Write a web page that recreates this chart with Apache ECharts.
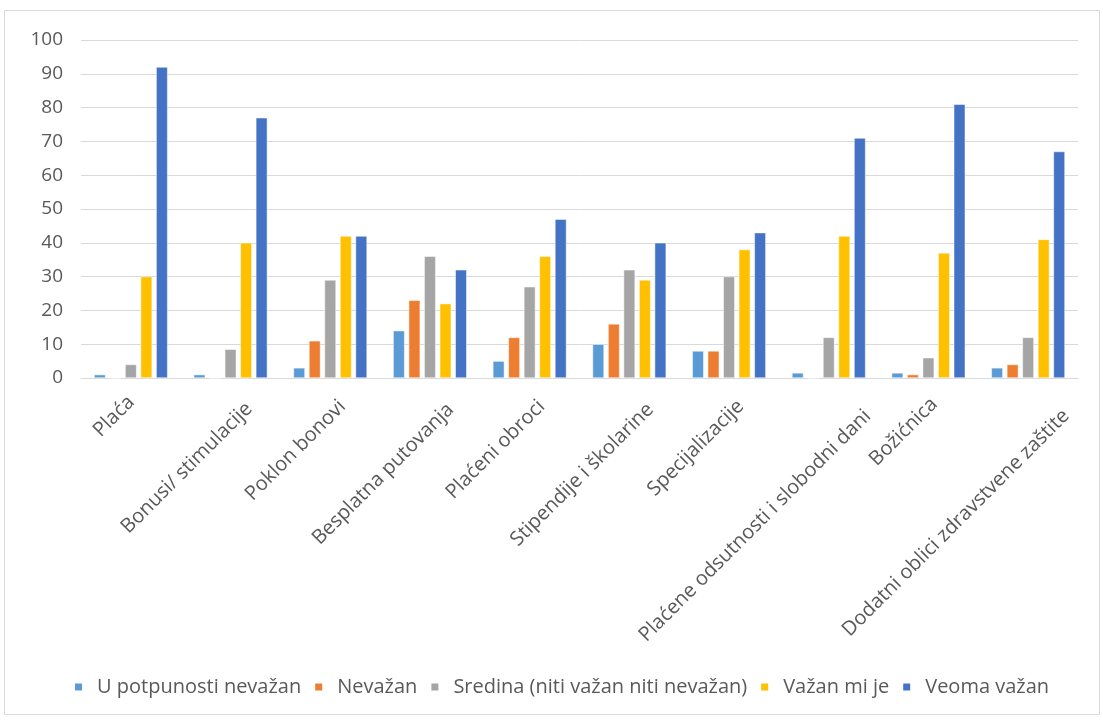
<!DOCTYPE html>
<html>
<head>
<meta charset="utf-8">
<script src="https://cdn.jsdelivr.net/npm/echarts@6/dist/echarts.min.js"></script>
<style>
html,body{margin:0;padding:0;background:#fff;}
#chart{width:1103px;height:720px;}
</style>
</head>
<body>
<div id="chart"></div>
<script>
const categories = ["Plaća","Bonusi/ stimulacije","Poklon bonovi","Besplatna putovanja","Plaćeni obroci","Stipendije i školarine","Specijalizacije","Plaćene odsutnosti i slobodni dani","Božićnica","Dodatni oblici zdravstvene zaštite"];
const seriesNames = ["U potpunosti nevažan","Nevažan","Sredina (niti važan niti nevažan)","Važan mi je","Veoma važan"];
const uPotpunosti = [1, 1, 3, 14, 5, 10, 8, 1.5, 1.5, 3];
const nevazan     = [0, 0, 11, 23, 12, 16, 8, 0, 1, 4];
const sredina     = [4, 8.5, 29, 36, 27, 32, 30, 12, 6, 12];
const vazan       = [30, 40, 42, 22, 36, 29, 38, 42, 37, 41];
const veoma       = [92, 77, 42, 32, 47, 40, 43, 71, 81, 67];
const colors = ["#5B9BD5","#ED7D31","#A5A5A5","#FFC000","#4472C4"];
const allData = [uPotpunosti, nevazan, sredina, vazan, veoma];

const font = "'Open Sans', 'DejaVu Sans', sans-serif";
const labelSize = 20;

// Excel-like label placement: longer rotated labels drift right of their tick.
const ctx = document.createElement('canvas').getContext('2d');
ctx.font = labelSize + "px " + font;
const rich = {};
categories.forEach((c, i) => {
  const w = ctx.measureText(c).width;
  const d = Math.max(0, 0.13 * w - 6);
  rich['s' + i] = {
    fontSize: labelSize, fontFamily: font, color: '#595959',
    padding: [d * Math.SQRT2 * 1.5, -d / Math.SQRT2 * 0.7, 0, 0]
  };
});

const chart = echarts.init(document.getElementById('chart'));
chart.setOption({
  animation: false,
  textStyle: {fontFamily: font},
  graphic: [{
    type: 'rect', shape: {x: 4.5, y: 10.5, width: 1095, height: 704},
    style: {fill: 'none', stroke: '#d9d9d9', lineWidth: 1}
  }],
  grid: {left: 81, right: 25, top: 40, bottom: 342},
  legend: {
    bottom: 18, left: 68,
    itemWidth: 9, itemHeight: 9, itemGap: 12,
    icon: 'rect',
    textStyle: {color: '#595959', fontSize: 20, fontFamily: font, padding: [0, 0, 0, 9]},
    data: seriesNames
  },
  xAxis: {
    type: 'category', data: categories,
    axisLine: {lineStyle: {color: '#d9d9d9'}},
    axisTick: {show: false},
    axisLabel: {
      rotate: 45, interval: 0, color: '#595959', fontSize: labelSize, fontFamily: font, margin: 21,
      formatter: (v, i) => '{s' + i + '|' + v + '}',
      rich: rich
    }
  },
  yAxis: {
    type: 'value', min: 0, max: 100, interval: 10,
    axisLine: {show: false}, axisTick: {show: false},
    splitLine: {lineStyle: {color: '#d9d9d9'}},
    axisLabel: {color: '#595959', fontSize: 19, fontFamily: font, margin: 18}
  },
  series: seriesNames.map((n, i) => ({
    name: n, type: 'bar', data: allData[i],
    barWidth: 11.5, barGap: '35%',
    itemStyle: {color: colors[i], borderColor: '#ffffff', borderWidth: 0.5}
  }))
});
</script>
</body>
</html>
